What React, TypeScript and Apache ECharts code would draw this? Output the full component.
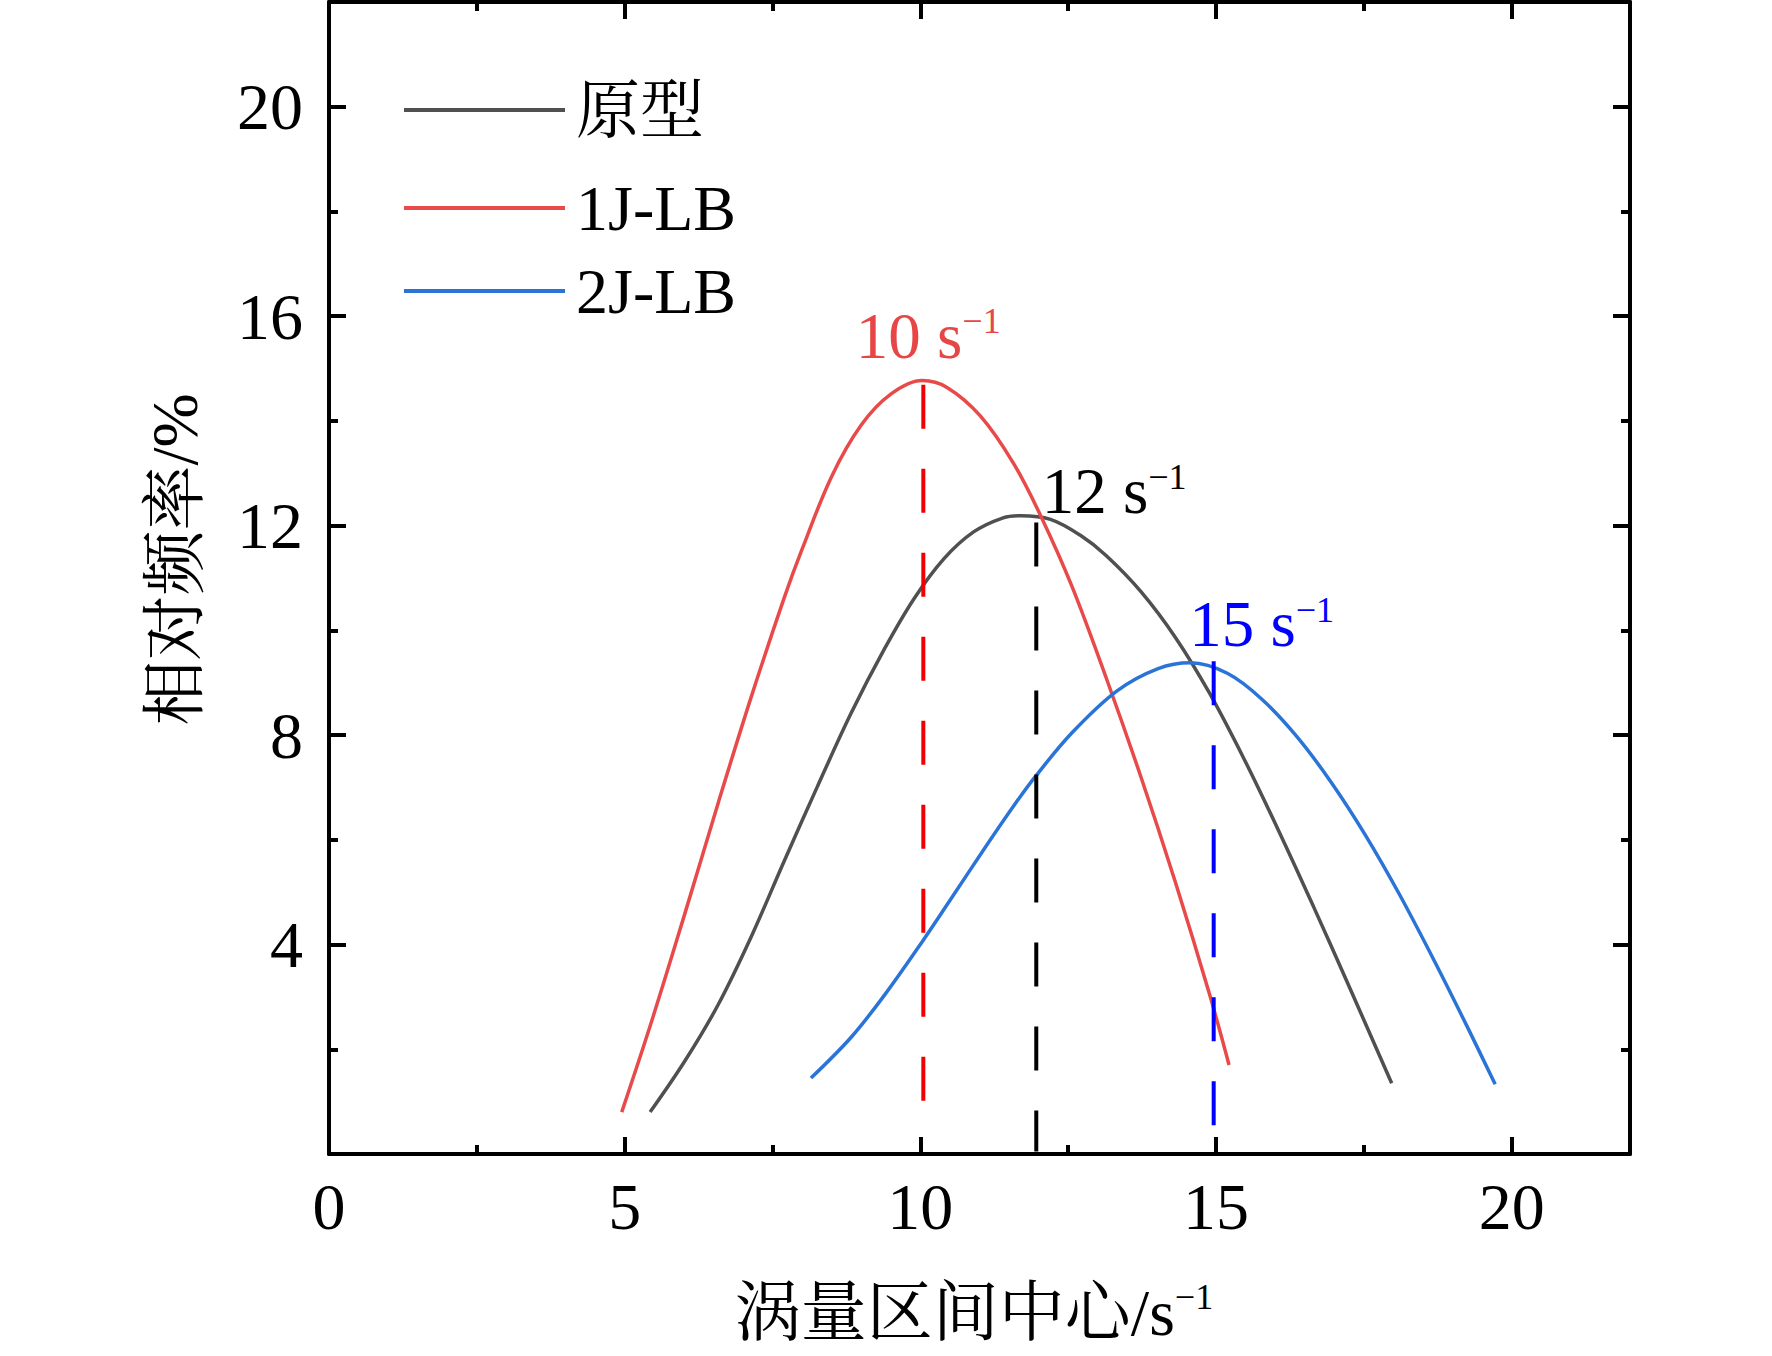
import React, { useEffect, useRef } from "react";
import * as echarts from "echarts";

// ---- data ----
const seriesNames = ["原型", "1J-LB", "2J-LB"];
const seriesColors = ["#505050", "#E84A4A", "#2A74D8"];

const prototypeCurve: number[][] = [
  [5.43, 0.8], [6.02, 1.78], [6.58, 2.85], [7.14, 4.15], [7.7, 5.6], [8.26, 7.02],
  [8.83, 8.42], [9.39, 9.64], [9.89, 10.6], [10.4, 11.37], [10.9, 11.88], [11.4, 12.15],
  [11.7, 12.19], [12.2, 12.12], [12.7, 11.82], [13.14, 11.43], [13.73, 10.74],
  [14.31, 9.87], [14.89, 8.8], [15.48, 7.53], [16.06, 6.17], [16.65, 4.72],
  [17.23, 3.25], [17.97, 1.35],
];

const oneJCurve: number[][] = [
  [4.95, 0.8], [5.46, 2.55], [6.02, 4.6], [6.58, 6.7], [7.14, 8.73], [7.7, 10.63],
  [8.0, 11.55], [8.5, 12.94], [9.0, 13.92], [9.5, 14.51], [10.03, 14.77], [10.45, 14.64],
  [11.01, 14.1], [11.57, 13.2], [12.03, 12.2], [12.56, 10.85], [13.14, 9.1],
  [13.73, 7.2], [14.31, 5.2], [14.89, 3.05], [15.22, 1.7],
];

const twoJCurve: number[][] = [
  [8.15, 1.45], [8.83, 2.23], [9.39, 3.03], [10.04, 4.07], [10.51, 4.86], [11.07, 5.81],
  [11.63, 6.73], [11.96, 7.23], [12.56, 8.04], [13.32, 8.84], [14.02, 9.27], [14.57, 9.38],
  [15.19, 9.18], [15.77, 8.69], [16.36, 7.98], [16.94, 7.11], [17.52, 6.1], [18.1, 4.96],
  [18.69, 3.69], [19.27, 2.38], [19.72, 1.33],
];

const curves = [prototypeCurve, oneJCurve, twoJCurve];

// peak markers (dashed verticals) and their labels
const peakLabels = ["10", "12", "15"];
const peakX = [10.05, 11.96, 14.96];
const peakTop = [14.69, 12.06, 9.41];
const peakBottom = [0.3, 0.05, 0.54];
const peakLineColors = ["#F00000", "#000000", "#0000FF"];
const peakTextColors = ["#E64646", "#000000", "#0000FF"];

// axes
const xMin = 0, xMax = 22, xStep = 5;
const yMin = 0, yMax = 22, yStep = 4;
const xName = "涡量区间中心/s";
const yName = "相对频率/%";
const supText = "−1";

const SERIF =
  '"Times New Roman", "Liberation Serif", "Noto Serif CJK SC", "Noto Sans CJK SC", serif';

export default function App() {
  const ref = useRef<HTMLDivElement>(null);

  useEffect(() => {
    if (!ref.current) return;
    const chart = echarts.init(ref.current, undefined, { renderer: "svg" });

    const axisLine = { show: true, onZero: false, lineStyle: { color: "#000", width: 4 } };
    const axisTick = { show: true, inside: true, length: 17, lineStyle: { color: "#000", width: 4 } };
    const minorTick = { show: true, splitNumber: 2, length: 9, lineStyle: { color: "#000", width: 4 } };

    const labelOffsets = [
      [-68, -49],
      [5, -31],
      [-25, -37],
    ];
    const legendTops = [78, 176, 259];

    const curveSeries = seriesNames.map((name, i) => ({
      name,
      type: "line",
      data: curves[i],
      smooth: 0.35,
      symbol: "none",
      lineStyle: { color: seriesColors[i], width: 3.5 },
      itemStyle: { color: seriesColors[i] },
      z: 3,
    }));

    const peakSeries = peakLabels.map((lab, i) => ({
      type: "line",
      silent: true,
      symbol: "circle",
      symbolSize: 1,
      itemStyle: { color: "rgba(0,0,0,0)" },
      lineStyle: { color: peakLineColors[i], width: 4, type: [44, 40], cap: "butt" },
      z: 4,
      data: [
        {
          value: [peakX[i], peakTop[i]],
          label: {
            show: true,
            position: "right",
            distance: 0,
            offset: labelOffsets[i],
            formatter: `{m|${lab} s}{s|${supText}}`,
            rich: {
              m: { fontFamily: SERIF, fontSize: 65, lineHeight: 65, color: peakTextColors[i] },
              s: { fontFamily: SERIF, fontSize: 36, lineHeight: 46, verticalAlign: "top", color: peakTextColors[i] },
            },
          },
        },
        { value: [peakX[i], peakBottom[i]] },
      ],
    }));

    chart.setOption({
      animation: false,
      backgroundColor: "#fff",
      grid: { left: 329, top: 2, width: 1301, height: 1152, containLabel: false, outerBoundsMode: "none" },
      legend: seriesNames.map((n, i) => ({
        data: [n],
        left: 404,
        top: legendTops[i],
        orient: "vertical",
        padding: 0,
        icon: "rect",
        itemWidth: 161,
        itemHeight: 4,
        itemGap: 0,
        selectedMode: false,
        textStyle: { fontFamily: SERIF, fontSize: 64, lineHeight: 64, color: "#000", padding: [0, 0, 0, 6] },
      })),
      xAxis: [
        {
          type: "value",
          position: "bottom",
          min: xMin,
          max: xMax,
          interval: xStep,
          name: `{a|${xName}}{b|${supText}}`,
          nameLocation: "middle",
          nameGap: 158,
          nameTextStyle: {
            color: "#000",
            verticalAlign: "middle",
            padding: [0, 11, 0, 0],
            rich: {
              a: { fontFamily: SERIF, fontSize: 66, lineHeight: 66, color: "#000" },
              b: { fontFamily: SERIF, fontSize: 36, lineHeight: 46, verticalAlign: "top", color: "#000" },
            },
          },
          axisLine,
          axisTick,
          minorTick,
          splitLine: { show: false },
          axisLabel: {
            show: true,
            margin: 19,
            fontFamily: SERIF,
            fontSize: 66,
            lineHeight: 66,
            color: "#000",
            showMinLabel: true,
            showMaxLabel: false,
          },
        },
        {
          type: "value",
          position: "top",
          min: xMin,
          max: xMax,
          interval: xStep,
          axisLine,
          axisTick,
          minorTick,
          splitLine: { show: false },
          axisLabel: { show: false },
        },
      ],
      yAxis: [
        {
          type: "value",
          position: "left",
          min: yMin,
          max: yMax,
          interval: yStep,
          name: yName,
          nameLocation: "middle",
          nameGap: 154,
          nameTextStyle: {
            fontFamily: SERIF,
            fontSize: 65,
            color: "#000",
            verticalAlign: "middle",
            padding: [0, 0, 0, 37],
          },
          axisLine,
          axisTick,
          minorTick,
          splitLine: { show: false },
          axisLabel: {
            show: true,
            margin: 26,
            fontFamily: SERIF,
            fontSize: 66,
            lineHeight: 66,
            color: "#000",
            padding: [8, 0, 0, 0],
            showMinLabel: false,
            showMaxLabel: false,
          },
        },
        {
          type: "value",
          position: "right",
          min: yMin,
          max: yMax,
          interval: yStep,
          axisLine,
          axisTick,
          minorTick,
          splitLine: { show: false },
          axisLabel: { show: false },
        },
      ],
      series: [...curveSeries, ...peakSeries],
    });

    return () => chart.dispose();
  }, []);

  return (
    <div
      ref={ref}
      style={{ position: "absolute", left: 0, top: 0, width: 1772, height: 1356, background: "#fff" }}
    />
  );
}
